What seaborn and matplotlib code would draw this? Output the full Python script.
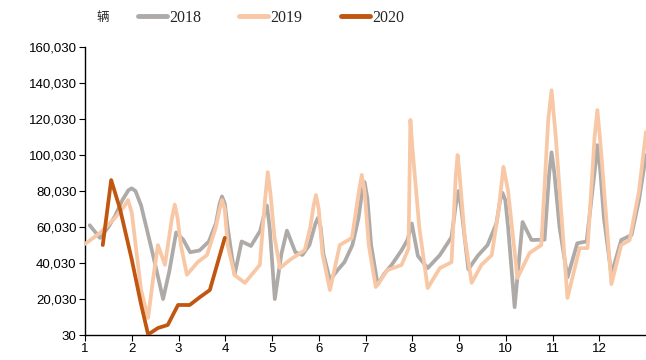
import matplotlib
matplotlib.use("Agg")
import matplotlib.pyplot as plt
import matplotlib.ticker as ticker
import pandas as pd
import seaborn as sns

# month position (1 = Jan) and vehicles
x_2018 = [1.10, 1.32, 1.50, 1.64, 1.80, 1.93, 2.00, 2.08, 2.20, 2.45,
          2.67, 2.80, 2.95, 3.10, 3.25, 3.45, 3.65, 3.80, 3.88, 3.93,
          3.99, 4.05, 4.20, 4.35, 4.55, 4.75, 4.85, 4.89, 4.95, 5.06,
          5.20, 5.32, 5.50, 5.65, 5.80, 5.93, 5.98, 6.04, 6.10, 6.24,
          6.40, 6.55, 6.72, 6.85, 6.93, 6.98, 7.04, 7.12, 7.26, 7.40,
          7.56, 7.77, 7.90, 7.99, 8.12, 8.33, 8.59, 8.84, 8.94, 8.99,
          9.05, 9.20, 9.40, 9.61, 9.80, 9.88, 9.93, 9.99, 10.05, 10.19,
          10.36, 10.55, 10.83, 10.93, 10.98, 11.04, 11.15, 11.32, 11.53, 11.73,
          11.91, 11.96, 12.02, 12.10, 12.26, 12.47, 12.69, 12.85, 13.00]
y_2018 = [61000, 54000, 60000, 66000, 75000, 80500, 81500, 80000, 72000, 45000,
          20000, 35000, 57000, 53000, 46000, 47000, 52000, 62000, 73000, 77000,
          73000, 60000, 33500, 52000, 49500, 58000, 69000, 72000, 60000, 20000,
          45000, 58000, 46000, 44500, 50000, 62000, 65000, 60000, 45000, 30500,
          36000, 40500, 50000, 65000, 80000, 85000, 76000, 50000, 28000, 34000,
          39000, 47000, 53000, 62000, 44000, 37200, 44400, 54400, 74000, 80000,
          70000, 36500, 44000, 50000, 62000, 75000, 79000, 75000, 60000, 15500,
          62800, 52800, 53000, 90000, 101500, 90000, 60000, 32000, 51000, 52000,
          93000, 105500, 92000, 65000, 33500, 52800, 55600, 75000, 100000]

x_2019 = [1.00, 1.32, 1.64, 1.85, 1.92, 2.00, 2.07, 2.20, 2.35, 2.45,
          2.56, 2.71, 2.86, 2.92, 2.98, 3.05, 3.18, 3.41, 3.61, 3.80,
          3.88, 3.93, 3.99, 4.05, 4.20, 4.42, 4.74, 4.85, 4.91, 4.97,
          5.05, 5.17, 5.38, 5.70, 5.82, 5.89, 5.94, 6.00, 6.08, 6.24,
          6.45, 6.71, 6.86, 6.92, 6.98, 7.07, 7.22, 7.47, 7.77, 7.92,
          7.96, 8.00, 8.15, 8.33, 8.59, 8.84, 8.93, 8.97, 9.01, 9.12,
          9.27, 9.48, 9.70, 9.85, 9.95, 10.05, 10.25, 10.51, 10.76, 10.91,
          10.98, 11.07, 11.32, 11.58, 11.75, 11.90, 11.96, 12.03, 12.26, 12.47,
          12.65, 12.85, 13.00]
y_2019 = [50600, 56700, 65000, 72000, 75000, 68000, 52800, 25000, 9500, 30000,
          50000, 39000, 65000, 72500, 65000, 50000, 33500, 40500, 44500, 60000,
          70000, 75000, 70000, 50000, 33300, 29000, 39000, 75000, 90500, 78000,
          55000, 37200, 41700, 47200, 60000, 72000, 77800, 70000, 45000, 25000,
          50000, 54000, 80000, 89000, 80000, 50000, 26700, 36100, 38900, 48000,
          119500, 105000, 60000, 26100, 37200, 40500, 88000, 100000, 90000, 55000,
          29000, 39000, 44400, 70000, 93500, 80000, 31700, 45600, 50000, 120000,
          136000, 110000, 20600, 48300, 48300, 110000, 125000, 105000, 28300, 50000,
          52800, 80000, 112800]

x_2020 = [1.38, 1.56, 1.75, 2.00, 2.20, 2.35, 2.56, 2.77, 2.99, 3.24, 3.46, 3.67, 3.99]
y_2020 = [50000, 86100, 70000, 42000, 17000, 300, 3900, 5600, 16700, 16700, 21100, 25000, 54000]

years = ["2018", "2019", "2020"]
colors = ["#aeaaa8", "#f8c8a6", "#c0560f"]
yticks = list(range(30, 160031, 20000))

df = pd.concat([
    pd.DataFrame({"month": x_2018, "value": y_2018, "year": "2018"}),
    pd.DataFrame({"month": x_2019, "value": y_2019, "year": "2019"}),
    pd.DataFrame({"month": x_2020, "value": y_2020, "year": "2020"}),
])

sns.set_theme(style="ticks")
plt.rcParams["font.family"] = ["Liberation Sans", "Noto Sans CJK SC", "DejaVu Sans"]

fig = plt.figure(figsize=(6.46, 3.6), dpi=100)
ax = fig.add_axes([85 / 646, 25 / 360, 561 / 646, 288 / 360])

g = sns.lineplot(data=df, x="month", y="value", hue="year", hue_order=years,
                 palette=colors, estimator=None, linewidth=2.7, ax=ax)
for line, z in zip(ax.get_lines(), [2, 3, 4]):
    line.set_zorder(z)
    line.set_solid_joinstyle("round")
    line.set_solid_capstyle("round")

ax.set_xlim(1, 13)
ax.set_ylim(30, 160030)
ax.set_xticks(range(1, 13))
ax.set_yticks(yticks)
ax.yaxis.set_major_formatter(ticker.FuncFormatter(lambda v, p: f"{int(round(v)):,}"))
ax.tick_params(axis="both", labelsize=9.5, length=4, width=0.8, colors="black", pad=2)
ax.set_xlabel("")
ax.set_ylabel("")
sns.despine(ax=ax)
for s in ["left", "bottom"]:
    ax.spines[s].set_color("black")
    ax.spines[s].set_linewidth(1.0)

handles, labels = ax.get_legend_handles_labels()
ax.get_legend().remove()
fig.legend(handles, labels, loc="center", bbox_to_anchor=(271 / 646, 1 - 18 / 360), ncol=3,
           frameon=False, handlelength=1.8, handletextpad=0.15, columnspacing=2.4,
           prop={"family": "Liberation Serif", "size": 11.5})
for h in fig.legends[0].get_lines():
    h.set_linewidth(3.5)

fig.text(103 / 646, 1 - 18 / 360, "辆", ha="center", va="center", fontsize=9,
         family=["Noto Sans CJK SC", "DejaVu Sans"])

fig.savefig("out.png", dpi=100)
